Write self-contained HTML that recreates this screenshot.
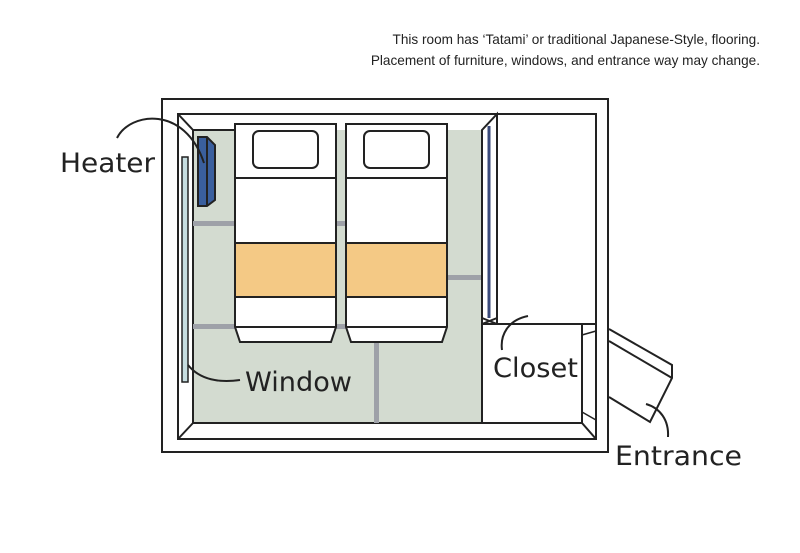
<!DOCTYPE html>
<html><head><meta charset="utf-8"><style>
body{margin:0;background:#fff}
svg{display:block}
.h{font-family:"DejaVu Sans","Liberation Sans",sans-serif;font-size:27px;fill:#222}
</style></head><body>
<svg width="800" height="553" viewBox="0 0 800 553" xmlns="http://www.w3.org/2000/svg">
<text x="760" y="44" text-anchor="end" font-family="Liberation Sans,sans-serif" font-size="13.6" fill="#222">This room has ‘Tatami’ or traditional Japanese-Style, flooring.</text>
<text x="760" y="65" text-anchor="end" font-family="Liberation Sans,sans-serif" font-size="13.6" fill="#222">Placement of furniture, windows, and entrance way may change.</text>
<g stroke="#222" stroke-width="2" fill="none">
<rect x="162" y="99" width="446" height="353" fill="#fff"/>
<rect x="178" y="114" width="418" height="325" fill="#fff"/>
<rect x="193" y="130" width="289" height="293" fill="#d3dbd0" stroke="none"/>
<line x1="178" y1="114" x2="193" y2="130"/><line x1="178" y1="439" x2="193" y2="423"/>
<line x1="596" y1="439" x2="582" y2="423"/>
<line x1="193" y1="130" x2="193" y2="423"/><line x1="193" y1="423" x2="582" y2="423"/>
<line x1="193" y1="130" x2="235" y2="130"/>
</g>
<g fill="#9ea1a8">
<rect x="193" y="221" width="42" height="5"/><rect x="336" y="221" width="10" height="5"/>
<rect x="193" y="324" width="42" height="5"/><rect x="336" y="324" width="10" height="5"/>
<rect x="447" y="275" width="35" height="5"/>
<rect x="374" y="342" width="5" height="81"/>
</g>
<g stroke="#222" stroke-width="2">
<g id="b"><path d="M235 124H336V327L331 342H240L235 327Z" fill="#fff"/>
<rect x="253" y="131" width="65" height="37" rx="6" fill="#fff"/>
<line x1="235" y1="178" x2="336" y2="178"/>
<rect x="235" y="243" width="101" height="54" fill="#f4c985"/>
<line x1="235" y1="327" x2="336" y2="327"/></g>
<use href="#b" transform="translate(111 0)"/>
<rect x="497" y="114" width="99" height="210" fill="#fff"/>
<rect x="482" y="324" width="100" height="99" fill="#fff"/>
<path d="M482 130L497 114V318L482 324Z" fill="#fff"/>
<line x1="482" y1="130" x2="482" y2="324"/>
<line x1="489" y1="126" x2="489" y2="318" stroke="#3a4a7a" stroke-width="3"/>
<line x1="482" y1="318" x2="497" y2="324"/>
<line x1="582" y1="335" x2="596" y2="331" stroke-width="1.5"/>
<line x1="582" y1="412" x2="596" y2="420" stroke-width="1.5"/>
<path d="M609 329L672 365V378L650 422L609 397" fill="#fff"/>
<line x1="609" y1="341" x2="672" y2="378"/>
<path d="M198 137H207L215 145V200L207 206H198Z" fill="#3a5f9e"/>
<line x1="207" y1="137" x2="207" y2="206"/>
<rect x="182" y="157" width="6" height="225" fill="#c6dde0" stroke-width="1.5"/>
</g>
<g stroke="#222" stroke-width="2" fill="none">
<path d="M117 138C130 112 185 105 204 163"/>
<path d="M188 365C200 380 220 383 240 380"/>
<path d="M528 316C508 320 500 335 502 350"/>
<path d="M646 404C660 408 669 420 668 437"/>
</g>
<text class="h" x="60" y="172" textLength="95" lengthAdjust="spacingAndGlyphs">Heater</text>
<text class="h" x="245" y="391" textLength="107" lengthAdjust="spacingAndGlyphs">Window</text>
<text class="h" x="493" y="377" textLength="85" lengthAdjust="spacingAndGlyphs">Closet</text>
<text class="h" x="615" y="465" textLength="127" lengthAdjust="spacingAndGlyphs">Entrance</text>
</svg>
</body></html>
